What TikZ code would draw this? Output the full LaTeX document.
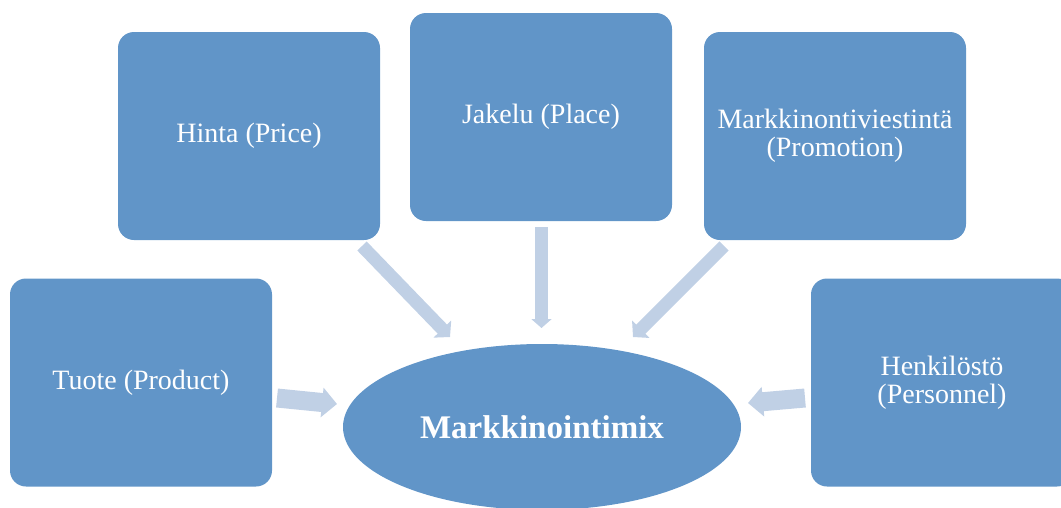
\documentclass[tikz,border=0pt]{standalone}
\usepackage{fontspec}
\setmainfont{Liberation Serif}
\usetikzlibrary{shapes.geometric,arrows.meta}
\definecolor{boxblue}{RGB}{97,149,200}
\definecolor{arrblue}{RGB}{192,208,229}
\tikzset{
  box/.style={draw=none, fill=boxblue, rounded corners=16pt, minimum width=262pt, minimum height=208pt,
    text=white, align=center, font=\fontsize{28}{28}\selectfont, inner sep=0pt},
  mixell/.style={ellipse, fill=boxblue, minimum width=398pt, minimum height=166pt, inner sep=0pt,
    text=white, font=\fontsize{33}{33}\selectfont\bfseries},
  diagarr/.style={draw=arrblue, line width=13pt, -{Triangle[length=11pt,width=24pt]}},
  vertarr/.style={draw=arrblue, line width=13pt, -{Triangle[length=9pt,width=20pt]}},
  horarr/.style={draw=arrblue, line width=19pt, -{Triangle[length=15pt,width=29pt]}}
}
\begin{document}
\begin{tikzpicture}[x=1pt,y=-1pt]
\useasboundingbox (0,0) rectangle (1061,507);
\clip (0,0) rectangle (1061,507);
\node[box] (hinta) at (249,136) {Hinta (Price)};
\node[box] (jakelu) at (541,117) {Jakelu (Place)};
\node[box] (promo) at (835,136) {Markkinontiviestintä\\(Promotion)};
\node[box] (tuote) at (141,382.5) {Tuote (Product)};
\node[box] (henk) at (942,382.5) {Henkilöstö\\(Personnel)};
\node[mixell] (mix) at (542,427) {Markkinointimix};
\coordinate (a1s) at (362,246); \coordinate (a1e) at (450,337);
\coordinate (a2s) at (541.5,227); \coordinate (a2e) at (541.5,328);
\coordinate (a3s) at (724,246); \coordinate (a3e) at (633,337);
\coordinate (a4s) at (277,398); \coordinate (a4e) at (337,404);
\coordinate (a5s) at (805,398); \coordinate (a5e) at (748,403);
\draw[diagarr] (a1s) -- (a1e);
\draw[vertarr] (a2s) -- (a2e);
\draw[diagarr] (a3s) -- (a3e);
\draw[horarr] (a4s) -- (a4e);
\draw[horarr] (a5s) -- (a5e);
\end{tikzpicture}
\end{document}
